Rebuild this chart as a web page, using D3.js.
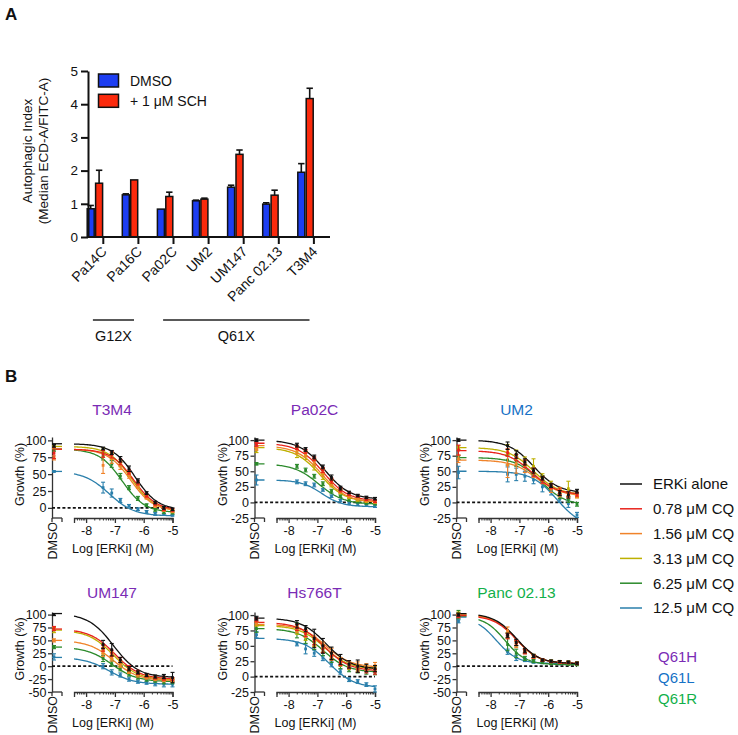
<!DOCTYPE html>
<html><head><meta charset="utf-8">
<script src="https://cdn.jsdelivr.net/npm/d3@7"></script>
<style>body{margin:0;background:#fff}svg{display:block}text{font-family:"Liberation Sans",Arial,sans-serif;fill:#111}</style>
</head><body><svg id="c" width="738" height="735"></svg>
<script>
// ---------- Panel A data ----------
const cellLines = ["Pa14C","Pa16C","Pa02C","UM2","UM147","Panc 02.13","T3M4"];
const dmsoMean = [0.85,1.27,0.84,1.09,1.50,0.99,1.95];
const dmsoErr  = [0.10,0.03,0.00,0.02,0.06,0.04,0.26];
const schMean  = [1.62,1.72,1.22,1.14,2.49,1.26,4.17];
const schErr   = [0.39,0.00,0.13,0.03,0.13,0.15,0.31];
const yTicksA  = [0,1,2,3,4,5];
const treatA   = ["DMSO","+ 1 \u03bcM SCH"];
const treatColorsA = ["#1d3ef2","#fb2a0c"];
const groupLabels = ["G12X","Q61X"];
const groupFrom = [0,2];
const groupTo = [1,6];

// ---------- Panel B data ----------
const logConc = [-7.71,-7.41,-7.11,-6.81,-6.51,-6.20,-5.90,-5.60,-5.30,-5.00];
const xTicksB = [-8,-7,-6,-5];
const cqLabels = ["ERKi alone","0.78 \u03bcM CQ","1.56 \u03bcM CQ","3.13 \u03bcM CQ","6.25 \u03bcM CQ","12.5 \u03bcM CQ"];
const cqColors = ["#111111","#e8231c","#f0832a","#bdb000","#2b8a2b","#2a7fab"];
const mutations = ["Q61H","Q61L","Q61R"];
const mutColors = ["#7a2bb5","#1672c6","#12b04a"];

// fit params per series: [top, bottom, logEC50, hill]
const t3m4Fit = [[95,-3,-6.3,1.1],[87,-4,-6.35,1.1],[87,-5,-6.45,1.1],[91,-5,-6.42,1.1],[87,-7,-6.75,1.1],[54,-12,-7.2,1.0]];
const t3m4Mean = [[null,88,82,72,58,40,22,8,0,-2],[null,80,79,68,53,37,18,6,-2,-3],[null,63,74,62,48,32,15,3,-3,-5],[null,85,76,65,50,33,16,4,-3,-5],[null,76,65,47,30,14,4,-3,-6,-7],[null,30,22,11,3,-2,-6,-9,-10,-11]];
const t3m4Err = [[null,2,3,4,4,3,2,2,2,2],[null,5,5,4,3,3,2,2,2,2],[null,12,8,5,4,3,2,2,2,2],[null,4,4,4,3,3,2,2,2,2],[null,5,5,4,3,3,2,2,2,2],[null,8,6,3,2,2,2,2,1,1]];
const t3m4Dmso = [92,81,74,90,86,54];
const t3m4DmsoErr = [2,8,3,2,2,1];

const pa02cFit = [[100,5,-6.75,1.0],[95,2,-6.8,1.0],[91,0,-6.85,1.0],[88,0,-6.9,1.0],[62,-3,-6.95,1.0],[36,-7,-6.85,1.2]];
const pa02cMean = [[92,85,73,57,40,23,16,11,8,6],[88,82,70,52,35,20,13,10,5,2],[84,78,65,48,32,18,10,6,3,1],[80,75,60,45,30,17,8,4,2,1],[58,52,42,30,18,10,4,1,-1,-2],[33,30,28,20,10,3,-1,-3,-4,-6]];
const pa02cErr = [[3,3,3,3,4,3,2,2,2,2],[3,3,3,4,4,3,2,2,2,2],[6,5,6,6,5,3,2,2,2,2],[8,6,8,8,5,3,2,2,2,2],[3,3,3,3,3,2,2,2,2,2],[3,3,3,2,2,2,2,2,2,2]];
const pa02cDmso = [100,93,86,84,62,36];
const pa02cDmsoErr = [2,3,2,4,2,8];

const um2Fit = [[100,15,-6.5,1.0],[83,12,-6.55,1.0],[68,10,-6.4,1.0],[88,12,-6.5,1.0],[72,-5,-6.25,1.0],[50,-40,-5.7,1.0]];
const um2Mean = [[null,91,77,65,51,39,27,15,12,18],[null,80,72,62,48,36,26,18,13,13],[null,60,62,58,48,36,22,15,12,10],[null,85,76,65,58,40,28,18,22,12],[null,68,66,62,50,38,25,10,5,-3],[null,45,45,42,36,25,18,5,-2,-20]];
const um2Err = [[null,6,6,5,4,3,3,4,5,3],[null,6,5,6,6,5,4,5,4,3],[null,20,15,10,8,6,6,6,5,3],[null,8,8,8,12,6,6,6,12,4],[null,8,8,6,6,5,5,4,5,3],[null,12,10,8,6,8,6,5,6,4]];
const um2Dmso = [100,84,70,88,72,48];
const um2DmsoErr = [2,8,6,3,3,10];

const um147Fit = [[102,-22,-7.05,1.0],[72,-25,-7.0,1.0],[50,-28,-7.05,1.0],[70,-27,-7.05,1.0],[37,-30,-7.1,1.0],[17,-35,-7.2,1.0]];
const um147Mean = [[null,42,32,12,-5,-12,-17,-20,-20,-22],[null,35,25,12,-3,-12,-18,-22,-24,-25],[null,25,15,3,-10,-17,-22,-25,-27,-28],[null,30,20,5,-8,-15,-20,-22,-25,-27],[null,15,5,-5,-15,-22,-26,-28,-30,-30],[null,0,-12,-17,-25,-30,-32,-34,-35,-35]];
const um147Err = [[null,8,12,5,4,3,3,3,4,10],[null,6,6,5,4,4,3,3,3,3],[null,6,5,5,4,4,3,3,3,3],[null,6,6,5,4,3,3,3,3,3],[null,6,5,4,4,3,3,3,4,4],[null,5,5,4,4,3,3,4,5,5]];
const um147Dmso = [100,73,50,70,37,18];
const um147DmsoErr = [2,4,3,5,3,6];

const hs766tFit = [[95,12,-6.7,1.0],[88,9,-6.75,1.0],[85,15,-6.7,1.0],[83,12,-6.75,1.0],[78,7,-6.8,1.0],[62,-18,-6.6,1.0]];
const hs766tMean = [[85,78,62,50,38,28,20,17,14,13],[80,70,58,45,33,23,17,12,10,8],[78,70,58,48,38,25,20,18,16,18],[75,65,55,45,33,22,16,14,13,12],[75,60,50,40,28,18,12,10,8,7],[53,45,38,30,20,8,-5,-8,-13,-20]];
const hs766tErr = [[6,5,15,12,10,8,6,10,6,5],[5,5,6,6,6,5,4,5,4,4],[6,6,8,8,8,6,5,6,5,5],[6,6,6,6,6,5,4,5,4,4],[12,6,6,6,5,5,4,4,4,4],[3,8,5,4,4,4,3,3,3,5]];
const hs766tDmso = [95,92,87,85,78,68];
const hs766tDmsoErr = [3,3,3,3,6,5];

const pancFit = [[102,5,-7.1,1.1],[98,5,-7.1,1.1],[100,5,-7.1,1.1],[101,5,-7.12,1.1],[97,3,-7.5,1.2],[95,5,-7.8,1.2]];
const pancMean = [[null,60,46,30,20,12,10,9,8,6],[null,58,45,28,19,12,9,8,7,5],[null,68,42,28,18,12,9,8,7,6],[null,60,44,29,20,12,10,9,8,6],[null,42,25,15,10,7,5,5,4,3],[null,28,16,12,8,7,6,5,5,4]];
const pancErr = [[null,4,6,4,3,2,2,2,2,2],[null,5,5,4,3,2,2,2,2,2],[null,8,6,4,3,2,2,2,2,2],[null,5,5,4,3,2,2,2,2,2],[null,12,8,4,3,2,2,2,2,2],[null,5,5,3,2,2,2,2,2,2]];
const pancDmso = [100,97,98,102,100,87];
const pancDmsoErr = [3,3,3,3,8,3];

const panelNames = ["T3M4","Pa02C","UM2","UM147","Hs766T","Panc 02.13"];
const panelMut = [0,0,1,0,0,2];
const panelYDomain = [[-15,105],[-25,105],[-25,105],[-50,105],[-25,105],[-50,105]];
const panelYTicks = [[0,25,50,75,100],[-25,0,25,50,75,100],[-25,0,25,50,75,100],[-50,-25,0,25,50,75,100],[-25,0,25,50,75,100],[-50,-25,0,25,50,75,100]];
const panelFit = [t3m4Fit,pa02cFit,um2Fit,um147Fit,hs766tFit,pancFit];
const panelMean = [t3m4Mean,pa02cMean,um2Mean,um147Mean,hs766tMean,pancMean];
const panelErr = [t3m4Err,pa02cErr,um2Err,um147Err,hs766tErr,pancErr];
const panelDmso = [t3m4Dmso,pa02cDmso,um2Dmso,um147Dmso,hs766tDmso,pancDmso];
const panelDmsoErr = [t3m4DmsoErr,pa02cDmsoErr,um2DmsoErr,um147DmsoErr,hs766tDmsoErr,pancDmsoErr];

const svg = d3.select("#c");
const FONT = "Liberation Sans, Arial, sans-serif";
const fmtPlain = d => String(d);

// ================= Panel A =================
svg.append("text").attr("x",5).attr("y",20).attr("font-size",17).attr("font-weight","bold").text("A");
const yA = d3.scaleLinear().domain([0,5]).range([237,71]);
const stepA = 35.1, bwA = 16.8, r0A = 86.5;
const xA = d3.scaleBand().domain(cellLines).range([r0A, r0A + 7*stepA - (stepA-bwA)]).paddingInner(1-bwA/stepA).paddingOuter(0);
const xIn = d3.scaleBand().domain(treatA).range([0, xA.bandwidth()]);
const gA = svg.append("g");
const barsData = [];
cellLines.forEach((c,i)=>{
  barsData.push({c, t:treatA[0], v:dmsoMean[i], e:dmsoErr[i], col:treatColorsA[0]});
  barsData.push({c, t:treatA[1], v:schMean[i], e:schErr[i], col:treatColorsA[1]});
});
barsData.forEach(d=>{
  const cx = xA(d.c)+xIn(d.t)+xIn.bandwidth()/2;
  if (d.e>0){
    gA.append("line").attr("x1",cx).attr("x2",cx).attr("y1",yA(d.v)).attr("y2",yA(d.v+d.e)).attr("stroke","#111").attr("stroke-width",1.6);
    gA.append("line").attr("x1",cx-3.2).attr("x2",cx+3.2).attr("y1",yA(d.v+d.e)).attr("y2",yA(d.v+d.e)).attr("stroke","#111").attr("stroke-width",1.6);
  }
});
gA.selectAll("rect.bar").data(barsData).join("rect").attr("class","bar")
  .attr("x",d=>xA(d.c)+xIn(d.t)+0.7).attr("y",d=>yA(d.v))
  .attr("width",xIn.bandwidth()-1.4).attr("height",d=>yA(0)-yA(d.v))
  .attr("fill",d=>d.col).attr("stroke","#111").attr("stroke-width",1.5);
const axA = gA.append("g").attr("transform","translate(88,0)")
  .call(d3.axisLeft(yA).tickValues(yTicksA).tickFormat(fmtPlain).tickSize(7).tickSizeOuter(0).tickPadding(3));
axA.select(".domain").attr("stroke","#111").attr("stroke-width",2);
axA.selectAll(".tick line").attr("stroke","#111").attr("stroke-width",2);
axA.selectAll(".tick text").attr("font-size",13.5).attr("font-family",FONT).attr("fill","#111");
gA.append("line").attr("x1",88).attr("x2",330).attr("y1",yA(0)).attr("y2",yA(0)).attr("stroke","#111").attr("stroke-width",2);
cellLines.forEach(c=>{
  const tx = xA(c)+xA.bandwidth();
  gA.append("line").attr("x1",tx).attr("x2",tx).attr("y1",yA(0)).attr("y2",yA(0)+7).attr("stroke","#111").attr("stroke-width",2);
  gA.append("text").attr("transform",`translate(${tx+1},${yA(0)+12}) rotate(-45)`)
    .attr("text-anchor","end").attr("dy","0.35em").attr("font-size",14).text(c);
});
const ylab = gA.append("text").attr("transform","translate(32,151) rotate(-90)").attr("text-anchor","middle").attr("font-size",13.5);
ylab.append("tspan").attr("x",0).attr("y",0).text("Autophagic Index");
ylab.append("tspan").attr("x",0).attr("y",15.5).text("(Median ECD-A/FITC-A)");
treatA.forEach((t,i)=>{
  gA.append("rect").attr("x",98.5).attr("y",74+i*20.3).attr("width",20).attr("height",13).attr("fill",treatColorsA[i]).attr("stroke","#111").attr("stroke-width",1.5);
  gA.append("text").attr("x",130).attr("y",85.5+i*20.3).attr("font-size",14).text(t);
});
groupLabels.forEach((lab,i)=>{
  const a = xA(cellLines[groupFrom[i]])+xA.bandwidth()/2-2;
  const b = xA(cellLines[groupTo[i]])+xA.bandwidth()/2+4;
  gA.append("line").attr("x1",a).attr("x2",b).attr("y1",320).attr("y2",320).attr("stroke","#222").attr("stroke-width",1.6);
  gA.append("text").attr("x",(a+b)/2).attr("y",341).attr("text-anchor","middle").attr("font-size",14.5).text(lab);
});

// ================= Panel B =================
svg.append("text").attr("x",5).attr("y",382).attr("font-size",17).attr("font-weight","bold").text("B");
const colX0 = [52,254.5,456.5];
const rowY = [[437,518],[612,692]];
const titleBase = [415,598];

function fourPL(p, x){ return p[1] + (p[0]-p[1])/(1+Math.pow(10,(x-p[2])*p[3])); }

panelNames.forEach((name,pi)=>{
  const col = pi%3, row = Math.floor(pi/3);
  const x0 = colX0[col], yTop = rowY[row][0], yBot = rowY[row][1];
  const g = svg.append("g");
  const y = d3.scaleLinear().domain(panelYDomain[pi]).range([yBot,yTop]);
  const x = d3.scaleLinear().domain([-8.42,-5]).range([x0+22,x0+120.5]);
  const xD = x0+2;
  const clipId = "clip"+pi;
  svg.append("clipPath").attr("id",clipId).append("rect").attr("x",x0).attr("y",yTop-6).attr("width",125).attr("height",yBot-yTop+6);

  g.append("text").attr("x",x0+60).attr("y",titleBase[row]).attr("text-anchor","middle").attr("font-size",15.5)
    .style("fill",mutColors[panelMut[pi]]).text(name);
  const ay = g.append("g").attr("transform",`translate(${x0},0)`)
    .call(d3.axisLeft(y).tickValues(panelYTicks[pi]).tickFormat(fmtPlain).tickSize(4).tickSizeOuter(0).tickPadding(1.5));
  ay.select(".domain").attr("stroke","#333").attr("stroke-width",1.3);
  ay.selectAll(".tick line").attr("stroke","#333").attr("stroke-width",1.3);
  ay.selectAll(".tick text").attr("font-size",12.5).attr("font-family",FONT).attr("fill","#111");
  g.append("text").attr("transform",`translate(${x0-28},${(yTop+yBot)/2-3}) rotate(-90)`).attr("text-anchor","middle").attr("font-size",12.5).text("Growth (%)");
  g.append("line").attr("x1",x0).attr("x2",x0+10).attr("y1",yBot).attr("y2",yBot).attr("stroke","#333").attr("stroke-width",1.3);
  [x0,x0+10].forEach(t=>g.append("line").attr("x1",t).attr("x2",t).attr("y1",yBot).attr("y2",yBot+4).attr("stroke","#333").attr("stroke-width",1.3));
  g.append("text").attr("transform",`translate(${x0+4.5},${yBot+4}) rotate(-90)`).attr("text-anchor","end").attr("font-size",12.5).text("DMSO");
  const ax = g.append("g").attr("transform",`translate(0,${yBot})`)
    .call(d3.axisBottom(x).tickValues(xTicksB).tickFormat(fmtPlain).tickSize(5).tickSizeOuter(5).tickPadding(3));
  ax.select(".domain").attr("stroke","#333").attr("stroke-width",1.3);
  ax.selectAll(".tick line").attr("stroke","#333").attr("stroke-width",1.3);
  ax.selectAll(".tick text").attr("font-size",12.5).attr("font-family",FONT).attr("fill","#111");
  const minor = [];
  for (let n=-9;n<=-6;n++) for (let k=2;k<=9;k++){ const v=n+Math.log10(k); if (v>-8.42 && v<-5) minor.push(v); }
  g.selectAll("line.minor").data(minor).join("line").attr("class","minor")
    .attr("x1",d=>x(d)).attr("x2",d=>x(d)).attr("y1",yBot).attr("y2",yBot+2.5).attr("stroke","#333").attr("stroke-width",1);
  g.append("text").attr("x",x0+61).attr("y",yBot+35).attr("text-anchor","middle").attr("font-size",12.5).text("Log [ERKi] (M)");
  g.append("line").attr("x1",x0).attr("x2",x(-5)).attr("y1",y(0)).attr("y2",y(0)).attr("stroke","#111").attr("stroke-width",1.8).attr("stroke-dasharray","3,2.2");

  const curveG = g.append("g").attr("clip-path",`url(#${clipId})`);
  const line = d3.line().x(d=>x(d[0])).y(d=>y(d[1]));
  for (let s=5;s>=0;s--){
    const p = panelFit[pi][s];
    const col = cqColors[s];
    const pts = d3.range(0,81).map(i=>{const xv=-8.42+i*(3.42/80); return [xv, fourPL(p,xv)];});
    curveG.append("path").attr("d",line(pts)).attr("fill","none").attr("stroke",col).attr("stroke-width",1.3);
    curveG.append("line").attr("x1",x0).attr("x2",x0+10).attr("y1",y(p[0])).attr("y2",y(p[0])).attr("stroke",col).attr("stroke-width",1.3);
    const means = panelMean[pi][s], errs = panelErr[pi][s];
    const all = [];
    means.forEach((m,i)=>{ if(m!==null) all.push({xp:x(logConc[i]), m, e:errs[i]}); });
    all.push({xp:xD, m:panelDmso[pi][s], e:panelDmsoErr[pi][s]});
    all.forEach(d=>{
      const y1=y(d.m-d.e), y2=y(d.m+d.e);
      g.append("line").attr("x1",d.xp).attr("x2",d.xp).attr("y1",y1).attr("y2",y2).attr("stroke",col).attr("stroke-width",1.1);
      [y1,y2].forEach(yy=>g.append("line").attr("x1",d.xp-2).attr("x2",d.xp+2).attr("y1",yy).attr("y2",yy).attr("stroke",col).attr("stroke-width",1.1));
      g.append("rect").attr("x",d.xp-1.4).attr("y",y(d.m)-1.4).attr("width",2.8).attr("height",2.8).attr("fill",col);
    });
  }
});

cqLabels.forEach((lab,i)=>{
  const yy = 484 + i*24.8;
  svg.append("line").attr("x1",620).attr("x2",642).attr("y1",yy).attr("y2",yy).attr("stroke",cqColors[i]).attr("stroke-width",1.5);
  svg.append("text").attr("x",653).attr("y",yy+5.3).attr("font-size",15).text(lab);
});
mutations.forEach((m,i)=>{
  svg.append("text").attr("x",658).attr("y",661.5+i*21).attr("font-size",15).style("fill",mutColors[i]).text(m);
});
</script></body></html>
